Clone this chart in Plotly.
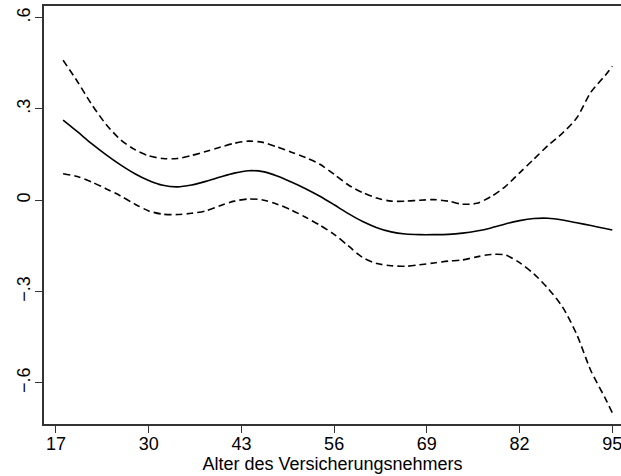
import plotly.graph_objects as go

age = [18, 20, 22, 24, 26, 28, 30, 32, 34, 36, 38, 40, 42, 44, 46, 48, 50, 52, 54, 56,
       58, 60, 62, 64, 66, 68, 70, 72, 74, 76, 78, 80, 82, 84, 86, 88, 90, 92, 94, 95]

fit = [0.263, 0.225, 0.186, 0.150, 0.117, 0.088, 0.065, 0.049, 0.044, 0.050,
       0.062, 0.076, 0.089, 0.097, 0.094, 0.080, 0.060, 0.038, 0.013, -0.015,
       -0.044, -0.070, -0.090, -0.104, -0.111, -0.113, -0.113, -0.112, -0.108, -0.101,
       -0.091, -0.078, -0.067, -0.060, -0.059, -0.065, -0.074, -0.083, -0.093, -0.098]

upper = [0.460, 0.390, 0.315, 0.250, 0.200, 0.167, 0.146, 0.137, 0.137, 0.147,
         0.160, 0.174, 0.187, 0.194, 0.190, 0.175, 0.158, 0.140, 0.118, 0.085,
         0.050, 0.025, 0.007, -0.003, -0.003, 0.000, 0.002, -0.003, -0.013, -0.010,
         0.012, 0.045, 0.090, 0.135, 0.180, 0.220, 0.270, 0.355, 0.410, 0.440]

lower = [0.087, 0.078, 0.060, 0.038, 0.015, -0.012, -0.035, -0.046, -0.047, -0.043,
         -0.035, -0.018, -0.003, 0.004, 0.001, -0.013, -0.032, -0.056, -0.082, -0.112,
         -0.150, -0.188, -0.208, -0.215, -0.217, -0.212, -0.206, -0.200, -0.196, -0.186,
         -0.178, -0.180, -0.205, -0.242, -0.290, -0.350, -0.440, -0.560, -0.650, -0.698]

x_ticks = [17, 30, 43, 56, 69, 82, 95]
y_ticks = [-0.6, -0.3, 0, 0.3, 0.6]
y_tick_text = ["\u2212.6", "\u2212.3", "0", ".3", ".6"]

FONT = "Liberation Sans, Arial, sans-serif"

fig = go.Figure()
fig.add_trace(go.Scatter(x=age, y=upper, mode="lines",
                         line=dict(color="black", width=1.6, dash="7px,4px", shape="spline", smoothing=0.8)))
fig.add_trace(go.Scatter(x=age, y=lower, mode="lines",
                         line=dict(color="black", width=1.6, dash="7px,4px", shape="spline", smoothing=0.8)))
fig.add_trace(go.Scatter(x=age, y=fit, mode="lines",
                         line=dict(color="black", width=1.6, shape="spline", smoothing=0.8)))

fig.update_layout(
    width=621, height=476,
    margin=dict(l=44, r=0, t=6, b=52),
    paper_bgcolor="white", plot_bgcolor="white",
    showlegend=False,
    font=dict(family=FONT, size=18, color="black"),
    xaxis=dict(range=[15.32, 96.22], tickvals=x_ticks, ticks="outside", ticklen=7,
               tickwidth=1, tickcolor="#333", showline=True, linecolor="#333", linewidth=2,
               mirror=True, showgrid=False, zeroline=False,
               tickfont=dict(size=18), ticklabeloverflow="allow", ticklabelstandoff=-5,
               title=dict(text="Alter des Versicherungsnehmers", font=dict(size=18), standoff=0)),
    yaxis=dict(range=[-0.735, 0.638], tickvals=y_ticks, ticktext=y_tick_text, ticks="outside",
               ticklen=7, tickwidth=1, tickcolor="#333", showline=True, linecolor="#333",
               linewidth=2, mirror=False, showgrid=False, zeroline=False, tickangle=-90,
               tickfont=dict(size=18), ticklabelstandoff=-2),
)

fig.write_html("out.html")
